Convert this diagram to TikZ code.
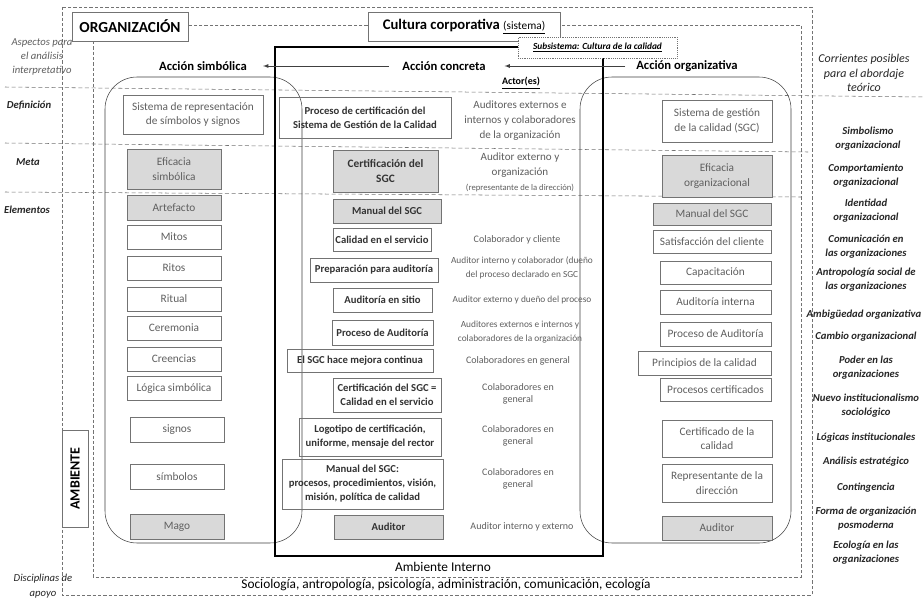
\documentclass[tikz,border=0pt]{standalone}
\usepackage{fontspec}
\setmainfont{Carlito}
\usetikzlibrary{positioning}
\definecolor{fillgray}{RGB}{217,217,217}
\definecolor{edgegray}{RGB}{115,115,115}
\definecolor{txtgray}{RGB}{95,95,95}
\begin{document}
\begin{tikzpicture}[x=0.75pt, y=-0.75pt,
  wh/.style 2 args={minimum width=#1*0.75pt, minimum height=#2*0.75pt},
  sbox/.style={draw=edgegray, text=txtgray, align=center, inner sep=1pt, font=\fontsize{8.5}{11}\selectfont},
  gbox/.style={sbox, fill=fillgray},
  cbox/.style={draw=edgegray, text=black!80, align=center, inner sep=1pt, font=\bfseries\fontsize{8}{10.5}\selectfont},
  cgbox/.style={cbox, fill=fillgray},
  actor/.style={text=txtgray, align=center, inner sep=0pt, font=\fontsize{7.5}{9.5}\selectfont},
  current/.style={align=center, inner sep=0pt, text=black!85, font=\bfseries\itshape\fontsize{8}{10.5}\selectfont},
  aspect/.style={align=center, inner sep=0pt, text=black!85, font=\bfseries\itshape\fontsize{8}{10}\selectfont},
  action/.style={inner sep=0pt, font=\bfseries\fontsize{9.5}{11}\selectfont},
  frame/.style={draw=edgegray, dash pattern=on 2.5pt off 1.5pt},
  rowline/.style={draw=edgegray, dash pattern=on 3pt off 2pt},
  zone/.style={draw=black!75, rounded corners=24pt},
]
\fill[white] (0,0) rectangle (924,603);
\useasboundingbox (0,0) rectangle (924,603);

\draw[rowline] (5,87) -- (924,97);
\draw[rowline] (5,143) -- (808,152);
\draw[rowline] (5,192) -- (801,197);

\draw[frame] (62,7) rectangle (812,595);
\draw[frame] (93,25) rectangle (801,577);

\draw[zone] (105,77) rectangle (302,543);
\draw[zone] (580,77) rectangle (791,543);
\draw[line width=1.6pt] (275,47) rectangle (603,556);

\node[draw=edgegray, fill=white, wh={116}{29}, font=\bfseries\fontsize{11.5}{13}\selectfont] (org) at (130,26.5) {ORGANIZACIÓN};
\node[draw=edgegray, fill=white, wh={192}{29}, font=\bfseries\fontsize{11}{13}\selectfont] (cultura) at (464,26.5) {Cultura corporativa {\mdseries\fontsize{8.5}{10}\selectfont\underline{(sistema)}}};
\node[draw=edgegray, densely dotted, fill=white, wh={159}{21}, font=\bfseries\itshape\fontsize{7}{8}\selectfont] (subsistema) at (597.5,47.5) {\underline{Subsistema: Cultura de la calidad}};

\node[action] (simbolica) at (203,66) {Acción simbólica};
\node[action] (concreta) at (444,66) {Acción concreta};
\node[action] (organizativa) at (687,66) {Acción organizativa};
\node[inner sep=0pt, font=\bfseries\fontsize{7.5}{9}\selectfont] (actores) at (521,83) {\underline{Actor(es)}};
\draw[-latex, black!75, shorten <=10pt, shorten >=12pt] (concreta.west) -- (simbolica.east);
\draw[-latex, black!75, shorten <=8pt, shorten >=14pt] (organizativa.west) -- (concreta.east);

% izquierda
\node[inner sep=0pt, align=center, text=txtgray, font=\itshape\fontsize{8}{10.5}\selectfont] (aspectos) at (42,57) {Aspectos para\\ el análisis\\ interpretativo};
\node[aspect] (definicion) at (29,105) {Definición};
\node[aspect] (meta) at (28,162) {Meta};
\node[aspect] (elementos) at (27,210) {Elementos};
\node[inner sep=0pt, align=center, text=black!85, font=\itshape\fontsize{8}{11}\selectfont] (disciplinas) at (43,586) {Disciplinas de\\ apoyo};
\node[draw=edgegray, fill=white, wh={97}{26}, rotate=90, font=\bfseries\fontsize{10.5}{13}\selectfont] (ambiente) at (75,478.5) {AMBIENTE};

\node[sbox, wh={140}{39}] (sisrep) at (193,114.5) {Sistema de representación\\ de símbolos y signos};
\node[gbox, wh={94}{40}] (efsim) at (174,169) {Eficacia\\ simbólica};
\node[gbox, wh={94}{25}] (artefacto) at (174,207.5) {Artefacto};
\node[sbox, wh={94}{24}] (mitos) at (174,237) {Mitos};
\node[sbox, wh={94}{24}] (ritos) at (174,268) {Ritos};
\node[sbox, wh={94}{24}] (ritual) at (174,299) {Ritual};
\node[sbox, wh={94}{24}] (ceremonia) at (174,328) {Ceremonia};
\node[sbox, wh={94}{24}] (creencias) at (174,359) {Creencias};
\node[sbox, wh={94}{24}] (logica) at (174,388.5) {Lógica simbólica};
\node[sbox, wh={94}{25}] (signos) at (177,429.5) {signos};
\node[sbox, wh={94}{25}] (simbolos) at (177,476.5) {símbolos};
\node[gbox, wh={94}{25}] (mago) at (177,526.5) {Mago};

% centro
\node[cbox, wh={172}{41}] (proceso) at (365,117.5) {Proceso de certificación del\\ Sistema de Gestión de la Calidad};
\node[cgbox, wh={105}{42}, font=\bfseries\fontsize{8.5}{11}\selectfont] (certsgc) at (385.5,171) {Certificación del\\ SGC};
\node[cgbox, wh={108}{24}] (manualc) at (387,211) {Manual del SGC};
\node[cbox, wh={98}{23}] (calidad) at (382,239.5) {Calidad en el servicio};
\node[cbox, wh={128}{24}] (preparacion) at (374,270) {Preparación para auditoría};
\node[cbox, wh={99}{24}] (sitio) at (382.5,300) {Auditoría en sitio};
\node[cbox, wh={101}{25}] (procaudc) at (382.5,332.5) {Proceso de Auditoría};
\node[cbox, wh={146}{23}] (mejora) at (360,360.5) {El SGC hace mejora continua};
\node[cbox, wh={108}{34}] (certcal) at (387,395) {Certificación del SGC =\\ Calidad en el servicio};
\node[cbox, wh={142}{38}] (logotipo) at (370,437) {Logotipo de certificación,\\ uniforme, mensaje del rector};
\node[cbox, wh={161}{50}] (manualproc) at (362.5,484) {Manual del SGC:\\ procesos, procedimientos, visión,\\ misión, política de calidad};
\node[cgbox, wh={109}{24}] (auditorc) at (388.5,527) {Auditor};

\node[actor, font=\fontsize{8.3}{11.3}\selectfont] (act1) at (520,121) {Auditores externos e\\ internos y colaboradores\\ de la organización};
\node[actor, font=\fontsize{8.3}{11.3}\selectfont] (act2) at (520,172) {Auditor externo y\\ organización\\ {\fontsize{6.5}{8}\selectfont(representante de la dirección)}};
\node[actor] (act3) at (517,240) {Colaborador y cliente};
\node[actor, font=\fontsize{7}{10}\selectfont] (act4) at (522,268) {Auditor interno y colaborador (dueño\\ del proceso declarado en SGC};
\node[actor, font=\fontsize{7}{9}\selectfont] (act5) at (522,300) {Auditor externo y dueño del proceso};
\node[actor, font=\fontsize{7}{10}\selectfont] (act6) at (520,332) {Auditores externos e internos y\\ colaboradores de la organización};
\node[actor] (act7) at (518,361) {Colaboradores en general};
\node[actor] (act8) at (518,394) {Colaboradores en\\ general};
\node[actor] (act9) at (518,436) {Colaboradores en\\ general};
\node[actor] (act10) at (518,479) {Colaboradores en\\ general};
\node[actor] (act11) at (522,527) {Auditor interno y externo};

% derecha
\node[sbox, wh={110}{42}] (sgc) at (717,121) {Sistema de gestión\\ de la calidad (SGC)};
\node[gbox, wh={110}{42}] (eforg) at (717,176) {Eficacia\\ organizacional};
\node[gbox, wh={118}{22}] (manualr) at (712,214) {Manual del SGC};
\node[sbox, wh={118}{23}] (satisfaccion) at (712,241.5) {Satisfacción del cliente};
\node[sbox, wh={111}{23}] (capacitacion) at (715.5,272.5) {Capacitación};
\node[sbox, wh={111}{24}] (audint) at (715.5,302) {Auditoría interna};
\node[sbox, wh={111}{24}] (procaudr) at (715.5,334) {Proceso de Auditoría};
\node[sbox, wh={133}{24}] (principios) at (704.5,363) {Principios de la calidad};
\node[sbox, wh={111}{23}] (proccert) at (715.5,389.5) {Procesos certificados};
\node[sbox, wh={110}{37}] (certificado) at (717,438.5) {Certificado de la\\ calidad};
\node[sbox, wh={110}{38}] (representante) at (717,483) {Representante de la\\ dirección};
\node[gbox, wh={110}{24}] (auditorr) at (717,528) {Auditor};

\node[inner sep=0pt, align=center, text=black!85, font=\itshape\fontsize{9}{11}\selectfont] (corrientes) at (864,73) {Corrientes posibles\\ para el abordaje\\ teórico};
\node[current] (simbolismo) at (868,139) {Simbolismo\\ organizacional};
\node[current] (comportamiento) at (866,176) {Comportamiento\\ organizacional};
\node[current] (identidad) at (866,211) {Identidad\\ organizacional};
\node[current] (comunicacion) at (866,247) {Comunicación en\\ las organizaciones};
\node[current] (antropologia) at (866,280) {Antropología social de\\ las organizaciones};
\node[current] (ambiguedad) at (864,315) {Ambigüedad organizativa};
\node[current] (cambio) at (866,337) {Cambio organizacional};
\node[current] (poder) at (866,368) {Poder en las\\ organizaciones};
\node[current] (institucionalismo) at (866,406) {Nuevo institucionalismo\\ sociológico};
\node[current] (logicas) at (866,438) {Lógicas institucionales};
\node[current] (estrategico) at (866,462) {Análisis estratégico};
\node[current] (contingencia) at (866,488) {Contingencia};
\node[current] (posmoderna) at (866,519) {Forma de organización\\ posmoderna};
\node[current] (ecologia) at (866,553) {Ecología en las\\ organizaciones};

% abajo
\node[inner sep=0pt, font=\fontsize{10}{12}\selectfont] (interno) at (443,567) {Ambiente Interno};
\node[inner sep=0pt, font=\fontsize{10}{12}\selectfont] (apoyo) at (446,585) {Sociología, antropología, psicología, administración, comunicación, ecología};
\end{tikzpicture}
\end{document}
